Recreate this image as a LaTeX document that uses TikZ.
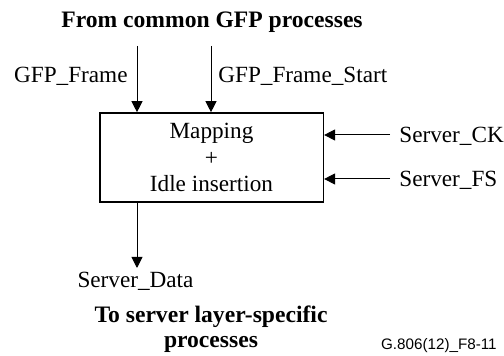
\documentclass[tikz,border=0pt]{standalone}
\usepackage{fontspec}
\setmainfont{Liberation Serif}
\setsansfont{Liberation Sans}
\usetikzlibrary{arrows.meta,positioning}

\begin{document}
\begin{tikzpicture}[
    x=0.5pt,y=-0.5pt,
    txt/.style={inner sep=0pt,font=\fontsize{11.6}{13.2}\selectfont},
    head/.style={inner sep=0pt,align=center,font=\fontsize{11.8}{12.5}\selectfont\bfseries},
    box/.style={draw,line width=0.8pt,minimum width=111.8pt,minimum height=44.5pt,align=center,inner sep=0pt,font=\fontsize{11.6}{13.2}\selectfont},
    link/.style={line width=0.5pt,-{Triangle[length=5.5pt,width=5.5pt]}}
  ]
  \useasboundingbox (0,0) rectangle (504,356);
  \node[box] (map) at (211.5,157.5) {Mapping\\+\\Idle insertion};
  \node[head,anchor=base] (from) at (212,28) {From common GFP processes};
  \node[txt,anchor=base east] (frame) at (128,83) {GFP\_Frame};
  \node[txt,anchor=base west] (start) at (218,83) {GFP\_Frame\_Start};
  \node[txt,anchor=base west] (ck) at (399,142.5) {Server\_CK};
  \node[txt,anchor=base west] (fs) at (399,186.5) {Server\_FS};
  \node[txt,anchor=base] (data) at (135.5,288) {Server\_Data};
  \node[head,anchor=base] (to) at (211,348) {To server layer-specific\\processes};
  \node[inner sep=0pt,font=\sffamily\fontsize{7.6}{9}\selectfont,anchor=base east] (tag) at (497,350) {G.806(12)\_F8-11};
  % signal ends
  \coordinate (frameIn) at (137,46);
  \coordinate (startIn) at (211,46);
  \coordinate (ckIn) at (390,135);
  \coordinate (fsIn) at (390,179);
  \coordinate (dataOut) at (137,268);
  \draw[link] (frameIn) -- (frameIn |- map.north);
  \draw[link] (startIn) -- (startIn |- map.north);
  \draw[link] (ckIn) -- (ckIn -| map.east);
  \draw[link] (fsIn) -- (fsIn -| map.east);
  \draw[link] (dataOut |- map.south) -- (dataOut);
\end{tikzpicture}
\end{document}
